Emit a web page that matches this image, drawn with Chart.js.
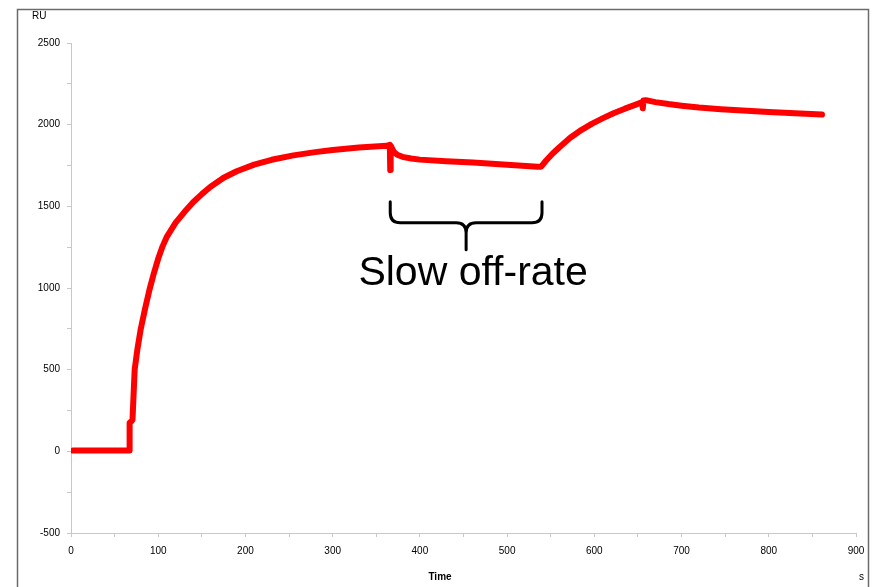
<!DOCTYPE html>
<html lang="en">
<head>
  <meta charset="UTF-8">
  <title>Sensorgram</title>
  <script src="https://cdn.jsdelivr.net/npm/chart.js"></script>
  <style>
    html, body {
      margin: 0;
      padding: 0;
      background: #ffffff;
    }
    #wrap {
      width: 875px;
      height: 587px;
    }
  </style>
</head>
<body>
  <div id="wrap"><canvas id="sensorChart"></canvas></div>

  <script>
    // time (s) and response (RU)
    const times = [2, 30, 66.6, 67.2, 69.5, 70.5, 73, 76, 80, 85, 90, 95, 100, 105, 110, 120, 130, 140, 150, 160, 175, 190, 210, 230, 255, 280, 300, 330, 362, 365.5,
      366, 366.5, 370, 374, 380, 390, 400, 430, 461, 500, 535, 539,
      545, 552, 560, 572, 585, 597, 610, 622, 635, 646, 655, 655.6, 656.2, 659,
      670, 685, 700, 720, 745, 770, 800, 830, 861];
    const ru = [5, 5, 5, 175, 185, 193, 500, 620, 750, 875, 990, 1090, 1180, 1255, 1315, 1400, 1465, 1525, 1575, 1620, 1675, 1715, 1755, 1785, 1812, 1832, 1845, 1860, 1871, 1877,
      1722, 1872, 1835, 1816, 1803, 1793, 1786, 1776, 1768, 1755, 1743, 1743,
      1782, 1822, 1862, 1918, 1967, 2005, 2040, 2070, 2098, 2120, 2138, 2100, 2148, 2150,
      2138, 2126, 2116, 2105, 2095, 2087, 2078, 2070, 2062];

    const xTicks = { min: 0, max: 900, major: 100, minor: 50 };
    const yTicks = { min: -500, max: 2500, major: 500, minor: 250 };

    // annotation: brace over the dissociation phase
    const brace = { from: 366, to: 540, top: 1528, bar: 1400, tip: 1234 };
    const braceLabel = { text: "Slow off-rate", x: 461, y: 1020 };

    const FONT = 'Arial, "Liberation Sans", sans-serif';

    const overlay = {
      id: "overlay",
      afterDraw(chart) {
        const ctx = chart.ctx;
        const xs = chart.scales.x, ys = chart.scales.y;
        ctx.save();

        // outer frame
        ctx.strokeStyle = "#6b6b6b";
        ctx.lineWidth = 1.5;
        ctx.beginPath();
        ctx.moveTo(17.5, 600);
        ctx.lineTo(17.5, 9.5);
        ctx.lineTo(868.5, 9.5);
        ctx.lineTo(868.5, 600);
        ctx.stroke();

        // axis captions
        ctx.fillStyle = "#000";
        ctx.font = "10px " + FONT;
        ctx.textAlign = "left";
        ctx.textBaseline = "alphabetic";
        ctx.fillText("RU", 32, 19);
        ctx.fillText("s", 859, 580);
        ctx.font = "bold 10px " + FONT;
        ctx.textAlign = "center";
        ctx.fillText("Time", 440, 580);

        // brace
        const L = xs.getPixelForValue(brace.from);
        const R = xs.getPixelForValue(brace.to);
        const C = (L + R) / 2;
        const T = ys.getPixelForValue(brace.top);
        const H = ys.getPixelForValue(brace.bar);
        const P = ys.getPixelForValue(brace.tip);
        const r = 10;
        ctx.strokeStyle = "#000";
        ctx.lineWidth = 3;
        ctx.lineCap = "round";
        ctx.lineJoin = "round";
        ctx.beginPath();
        ctx.moveTo(L, T);
        ctx.lineTo(L, H - r);
        ctx.quadraticCurveTo(L, H, L + r, H);
        ctx.lineTo(C - r, H);
        ctx.quadraticCurveTo(C, H, C, H + r);
        ctx.lineTo(C, P);
        ctx.moveTo(C, H + r);
        ctx.quadraticCurveTo(C, H, C + r, H);
        ctx.lineTo(R - r, H);
        ctx.quadraticCurveTo(R, H, R, H - r);
        ctx.lineTo(R, T);
        ctx.stroke();

        ctx.font = "41px " + FONT;
        ctx.textAlign = "center";
        ctx.fillText(braceLabel.text, xs.getPixelForValue(braceLabel.x), ys.getPixelForValue(braceLabel.y));
        ctx.restore();
      }
    };

    const ctx = document.getElementById("sensorChart").getContext("2d");
    new Chart(ctx, {
      type: "scatter",
      data: {
        datasets: [{
          label: "RU",
          data: times.map((t, i) => ({ x: t, y: ru[i] })),
          showLine: true,
          borderColor: "#ff0000",
          borderWidth: 6,
          pointRadius: 0,
          tension: 0,
          borderCapStyle: "round",
          borderJoinStyle: "round"
        }]
      },
      options: {
        responsive: true,
        maintainAspectRatio: false,
        animation: false,
        layout: { padding: { top: 43, right: 19, left: 0, bottom: 0 } },
        plugins: {
          legend: { display: false },
          tooltip: { enabled: false }
        },
        scales: {
          x: {
            type: "linear",
            min: xTicks.min,
            max: xTicks.max,
            afterFit(scale) { scale.height = 54; },
            border: { color: "#c8c8c8", width: 1 },
            grid: { drawOnChartArea: false, drawTicks: true, tickLength: 4, color: "#c8c8c8" },
            ticks: {
              stepSize: xTicks.minor,
              autoSkip: false,
              maxRotation: 0,
              padding: 8,
              color: "#000",
              font: { family: FONT, size: 10 },
              callback: (v) => (v % xTicks.major === 0 ? String(v) : "")
            }
          },
          y: {
            type: "linear",
            min: yTicks.min,
            max: yTicks.max,
            afterFit(scale) { scale.width = 71; },
            border: { color: "#c8c8c8", width: 1 },
            grid: { drawOnChartArea: false, drawTicks: true, tickLength: 4, color: "#c8c8c8" },
            ticks: {
              stepSize: yTicks.minor,
              autoSkip: false,
              padding: 7,
              color: "#000",
              font: { family: FONT, size: 10 },
              callback: (v) => (v % yTicks.major === 0 ? String(v) : "")
            }
          }
        }
      },
      plugins: [overlay]
    });
  </script>
</body>
</html>
